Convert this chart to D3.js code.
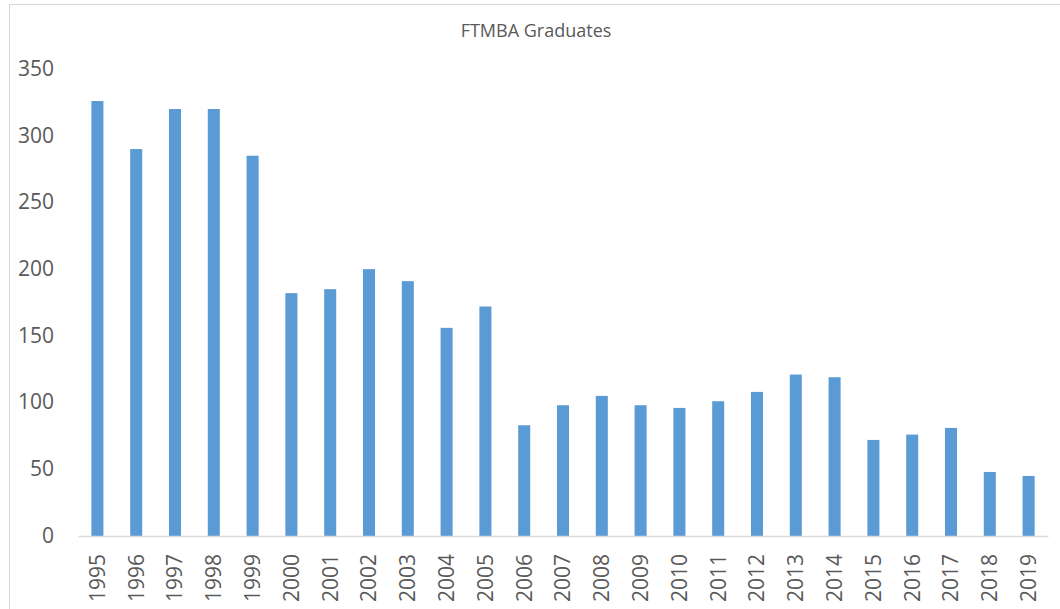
<!DOCTYPE html>
<html>
<head>
<meta charset="utf-8">
<script src="https://cdn.jsdelivr.net/npm/d3@7"></script>
<style>
  body { margin: 0; background: #fff; }
  text { font-family: "Open Sans", sans-serif; fill: #595959; }
</style>
</head>
<body>
<div id="chart"></div>
<script>
var w = 1060, h = 609;

var years = ["1995","1996","1997","1998","1999","2000","2001","2002","2003","2004","2005","2006",
  "2007","2008","2009","2010","2011","2012","2013","2014","2015","2016","2017","2018","2019"];
var graduates = [326, 290, 320, 320, 285, 182, 185, 200, 191, 156, 172, 83,
  98, 105, 98, 96, 101, 108, 121, 119, 72, 76, 81, 48, 45];
var yTicks = [0, 50, 100, 150, 200, 250, 300, 350];
var title = "FTMBA Graduates";

var barC = "#5b9bd5";
var lineC = "#d9d9d9";

var svg = d3.select("#chart")
  .append("svg")
  .attr("width", w)
  .attr("height", h);

// chart frame
svg.append("rect")
  .attr("x", 9.5).attr("y", 4.5)
  .attr("width", w + 20).attr("height", h + 20)
  .style("fill", "none")
  .style("stroke", lineC);

var x = d3.scaleBand()
  .domain(years)
  .range([78, 1048])
  .paddingInner(0.69)
  .paddingOuter(0.345);

var y = d3.scaleLinear()
  .domain([0, 350])
  .range([536, 69]);

svg.append("text")
  .attr("x", 536)
  .attr("y", 37)
  .attr("text-anchor", "middle")
  .style("font-size", "18px")
  .text(title);

// y labels, no axis line
var yAxis = svg.append("g")
  .attr("transform", "translate(54,0)")
  .call(d3.axisLeft(y).tickValues(yTicks).tickSize(0).tickPadding(0));
yAxis.select(".domain").remove();
yAxis.selectAll("text")
  .attr("dy", "0.3em")
  .style("font-size", "21px")
  .style("fill", "#595959");

svg.selectAll(".bar")
  .data(graduates)
  .enter()
  .append("rect")
  .classed("bar", 1)
  .attr("x", function(d, i) { return x(years[i]); })
  .attr("width", x.bandwidth())
  .attr("y", function(d) { return y(d); })
  .attr("height", function(d) { return y(0) - y(d); })
  .style("fill", barC);

var xAxis = svg.append("g")
  .attr("transform", "translate(0," + y(0) + ")")
  .call(d3.axisBottom(x).tickSize(0).tickPadding(0));
xAxis.select(".domain")
  .style("stroke", lineC)
  .style("stroke-width", 1.5);
xAxis.selectAll("text")
  .attr("transform", "rotate(-90)")
  .attr("text-anchor", "end")
  .attr("x", -18)
  .attr("y", 0)
  .attr("dy", "0.35em")
  .style("font-size", "21px")
  .style("fill", "#595959");
</script>
</body>
</html>
